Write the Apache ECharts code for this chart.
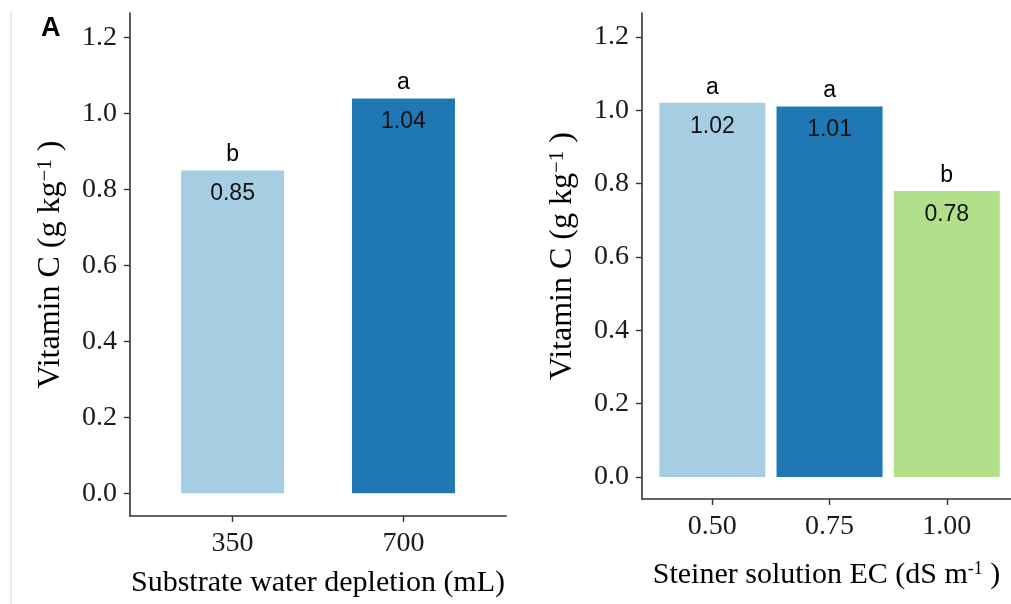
<!DOCTYPE html>
<html>
<head>
<meta charset="utf-8">
<script src="https://cdn.jsdelivr.net/npm/echarts@6/dist/echarts.min.js"></script>
<style>
html,body{margin:0;padding:0;background:#fff;}
#c{width:1011px;height:604px;}
</style>
</head>
<body>
<div id="c"></div>
<script>
// ---- data ----
const leftCategories = ['350', '700'];
const leftValues = [0.85, 1.04];
const leftLetters = ['b', 'a'];

const rightCategories = ['0.50', '0.75', '1.00'];
const rightValues = [1.02, 1.01, 0.78];
const rightLetters = ['a', 'a', 'b'];

const yTicks = [0, 0.2, 0.4, 0.6, 0.8, 1.0, 1.2];
const yTickLabels = ['0.0', '0.2', '0.4', '0.6', '0.8', '1.0', '1.2'];

// ---- styles ----
const palette = ['#A6CEE3', '#1F78B4', '#B2DF8A'];
const serif = '"Liberation Serif", "Times New Roman", serif';
const sans = '"Liberation Sans", Arial, sans-serif';
const axisColor = '#333';

const chart = echarts.init(document.getElementById('c'), null, {renderer: 'canvas'});

function xAxisFor(gridIndex, cats, title, gap, maxV) {
  const pos = cats.map((_, i) => i + 1);
  return {
    type: 'value', gridIndex: gridIndex,
    min: 0.4, max: maxV,
    axisLine: {show: true, onZero: false, lineStyle: {color: axisColor, width: 1.6}},
    axisTick: {show: true, customValues: pos, length: 6, lineStyle: {color: axisColor, width: 1.4}},
    axisLabel: {customValues: pos, formatter: v => cats[Math.round(v) - 1], margin: 14,
      fontFamily: serif, fontSize: 28, color: '#1a1a1a'},
    splitLine: {show: false},
    name: title, nameLocation: 'middle', nameGap: gap,
    nameTextStyle: {fontFamily: serif, fontSize: 30, color: '#000',
      rich: {t: {fontFamily: serif, fontSize: 30, color: '#000'},
             s: {fontFamily: serif, fontSize: 18, color: '#000', verticalAlign: 'top', padding: [0, 0, 10, 0]}}}
  };
}

function yAxisFor(gridIndex) {
  return {
    type: 'value', gridIndex: gridIndex,
    min: -0.06, max: 1.265,
    axisLine: {show: true, lineStyle: {color: axisColor, width: 1.6}},
    axisTick: {show: true, customValues: yTicks, length: 6, lineStyle: {color: axisColor, width: 1.4}},
    axisLabel: {customValues: yTicks, formatter: v => yTickLabels[yTicks.findIndex(t => Math.abs(t - v) < 1e-6)],
      margin: 13, fontFamily: serif, fontSize: 28, color: '#1a1a1a'},
    splitLine: {show: false},
    name: '{t|Vitamin C (g kg}{s|\u22121}{t| )}',
    nameLocation: 'middle', nameGap: 63,
    nameTextStyle: {
      rich: {t: {fontFamily: serif, fontSize: 32, color: '#000'},
             s: {fontFamily: serif, fontSize: 21, color: '#000', verticalAlign: 'top'}}}
  };
}

function barSeries(idx, values, width) {
  return {
    type: 'bar', xAxisIndex: idx, yAxisIndex: idx,
    barWidth: width,
    data: values.map((v, i) => ({value: [i + 1, v], itemStyle: {color: palette[i]}})),
    label: {show: true, position: 'insideTop', distance: 12,
      formatter: p => p.value[1].toFixed(2),
      fontFamily: sans, fontSize: 23, color: '#111'},
    silent: true
  };
}

function letterSeries(idx, values, letters, width) {
  return {
    type: 'bar', xAxisIndex: idx, yAxisIndex: idx,
    barWidth: width, barGap: '-100%',
    itemStyle: {color: 'rgba(0,0,0,0)'},
    data: values.map((v, i) => [i + 1, v]),
    label: {show: true, position: 'top', distance: 4,
      formatter: p => letters[p.dataIndex],
      fontFamily: sans, fontSize: 23, color: '#000', opacity: 1},
    silent: true
  };
}

chart.setOption({
  animation: false,
  backgroundColor: '#fff',
  title: {text: 'A', left: 41, top: 15, padding: 0,
    textStyle: {fontFamily: sans, fontWeight: 'bold', fontSize: 27, color: '#000'}},
  graphic: [{type: 'line', shape: {x1: 11, y1: 12, x2: 11, y2: 604},
    style: {stroke: '#d4d4d4', lineWidth: 1}}],
  grid: [
    {left: 130, top: 13, width: 376, height: 503},
    {left: 642, top: 13, width: 369, height: 486}
  ],
  xAxis: [
    xAxisFor(0, leftCategories, 'Substrate water depletion (mL)', 52, 2.6),
    xAxisFor(1, rightCategories, '{t|Steiner solution EC (dS m}{s|-1}{t| )}', 61, 3.548)
  ],
  yAxis: [yAxisFor(0), yAxisFor(1)],
  series: [
    barSeries(0, leftValues, 103),
    letterSeries(0, leftValues, leftLetters, 103),
    barSeries(1, rightValues, 106),
    letterSeries(1, rightValues, rightLetters, 106)
  ]
});
</script>
</body>
</html>
